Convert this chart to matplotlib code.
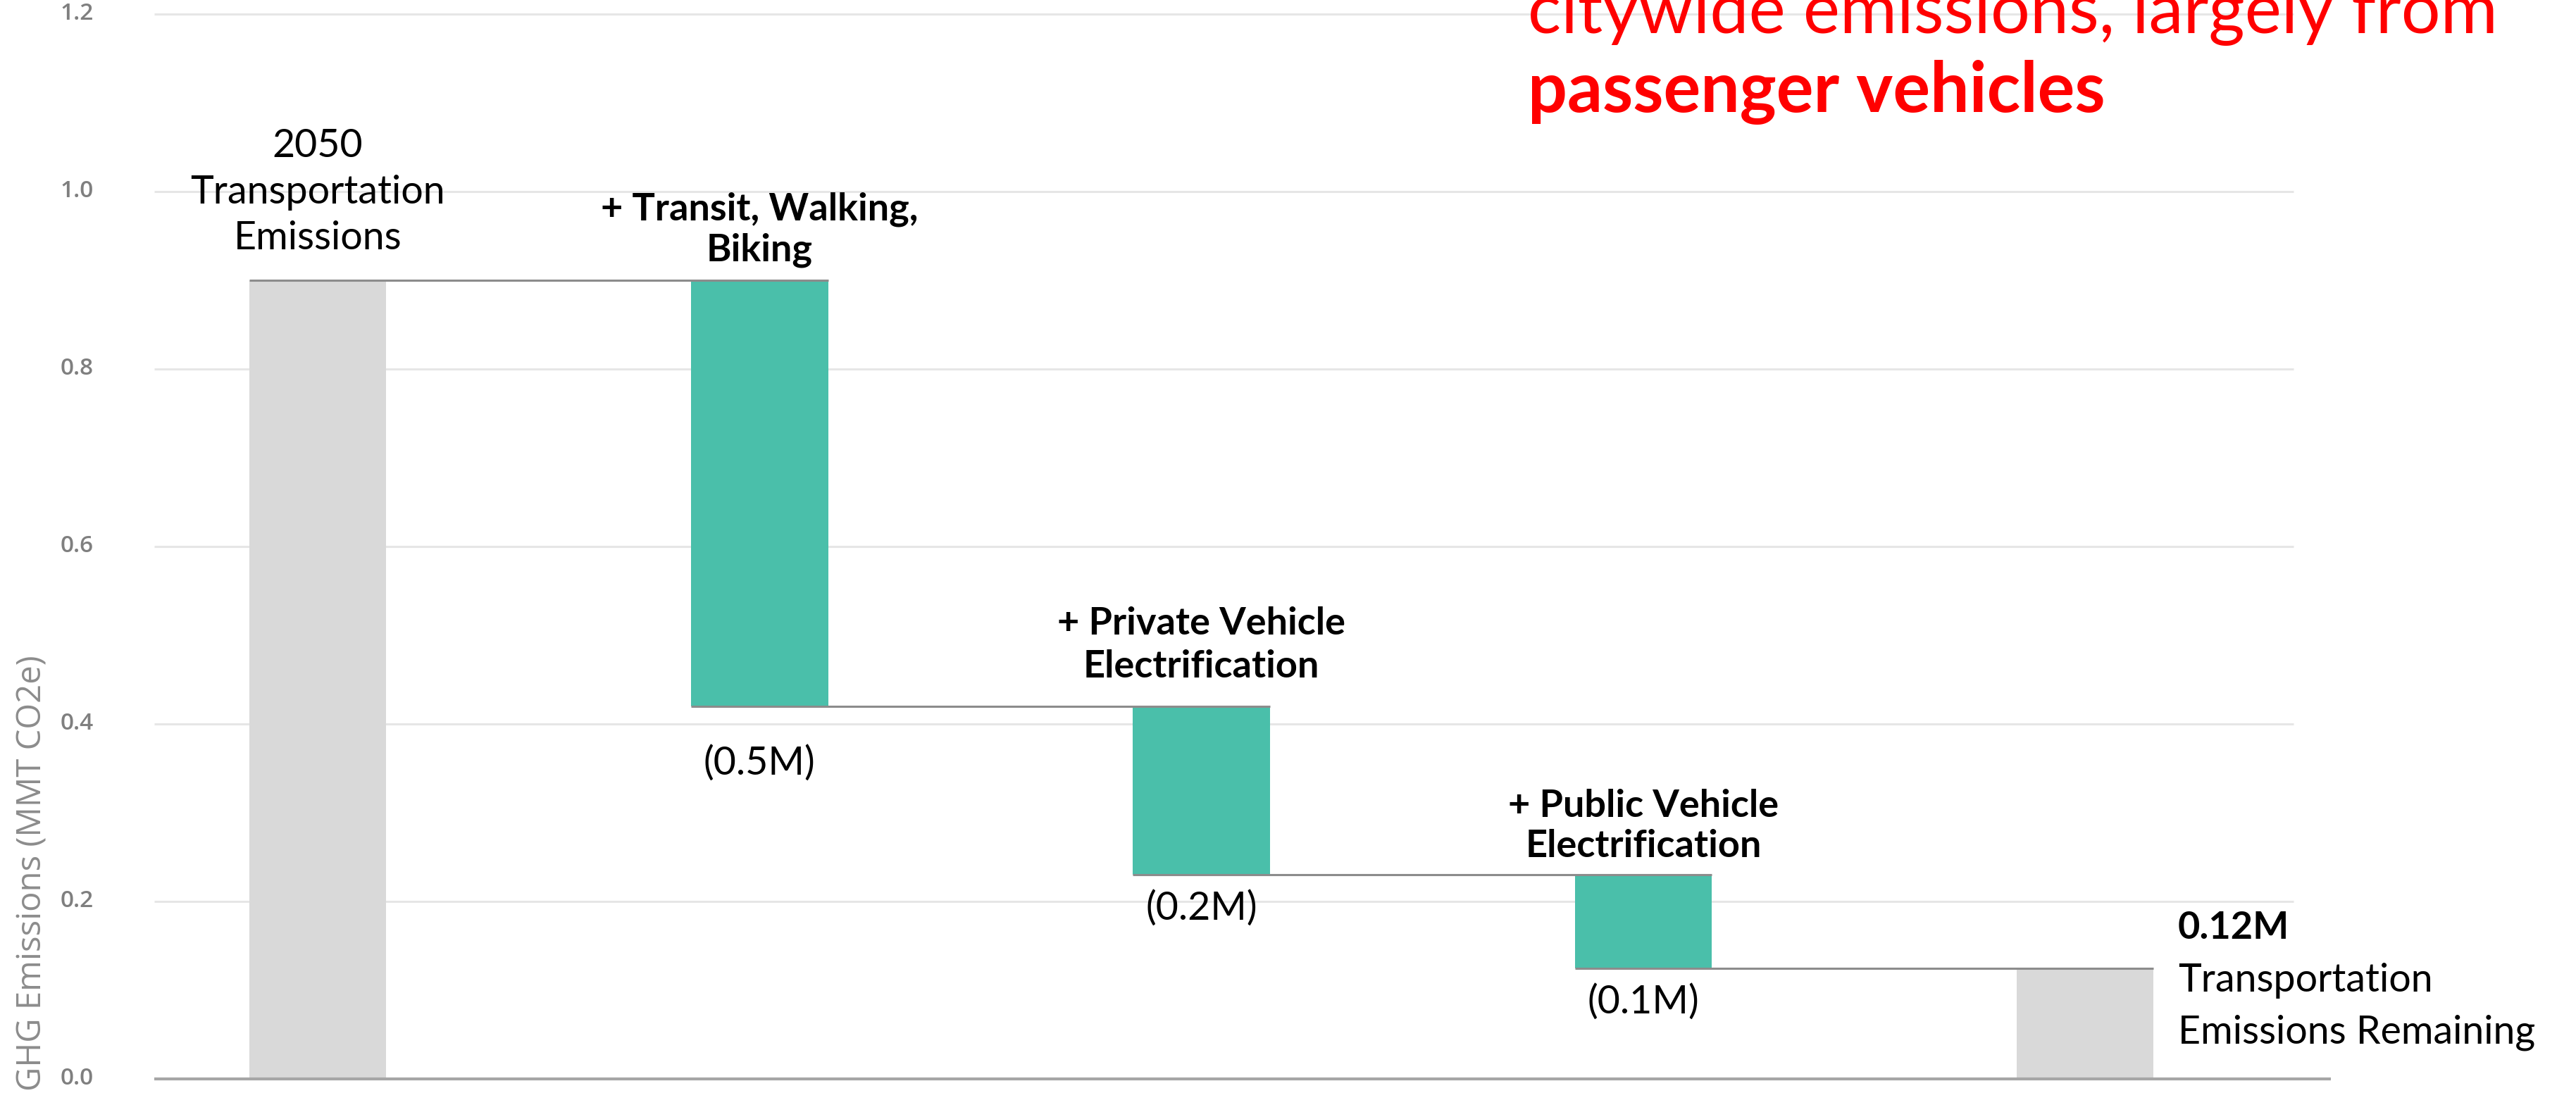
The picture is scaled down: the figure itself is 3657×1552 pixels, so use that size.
import matplotlib
matplotlib.use("Agg")
import matplotlib.pyplot as plt
import numpy as np

# ---------------- data ----------------
steps = ["2050 Transportation Emissions", "+ Transit, Walking, Biking",
         "+ Private Vehicle Electrification", "+ Public Vehicle Electrification",
         "Transportation Emissions Remaining"]
start_total = 0.90
reductions = [0.48, 0.19, 0.105]
remaining = 0.125
yticks = [0.0, 0.2, 0.4, 0.6, 0.8, 1.0, 1.2]
ytick_labels = ["0.0", "0.2", "0.4", "0.6", "0.8", "1.0", "1.2"]
reduction_labels = ["(0.5M)", "(0.2M)", "(0.1M)"]
ylabel = "GHG Emissions (MMT CO2e)"

W, H = 3657, 1552
DPI = 100
fig = plt.figure(figsize=(W / DPI, H / DPI), dpi=DPI)
ax = fig.add_axes([0, 0, 1, 1])
ax.set_facecolor("white")

# pixel -> data helpers
y0_row, per_unit = 1532, 1260.0
x0_col, per_cat = 451.0, 627.3
ax.set_ylim((y0_row - H) / per_unit, y0_row / per_unit)
ax.set_xlim((0 - x0_col) / per_cat, (W - x0_col) / per_cat)
for s in ax.spines.values():
    s.set_visible(False)
ax.set_xticks([])
ax.set_yticks([])

TEAL = "#4ABFAA"
GREY = "#D9D9D9"
LINE = "#8C8C8C"
GRID = "#E6E6E6"
bw = 0.31

# gridlines
gx0, gx1 = -0.37, 4.472
for t in yticks[1:]:
    ax.hlines(t, gx0, gx1, color=GRID, lw=2.2, zorder=0)
ax.hlines(0, gx0, 4.556, color="#A6A6A6", lw=3, zorder=3)

# tick labels
for t, lab in zip(yticks, ytick_labels):
    ax.text(-0.507, t, lab, ha="right", va="center", fontsize=24,
            color="#7F7F7F", family="Open Sans", fontweight="semibold")
fig.text(46 / W, 1 - 1240 / H, ylabel, rotation=90, ha="center", va="center",
         fontsize=34, color="#8C8C8C", family="Open Sans")

# waterfall
levels = [start_total]
for r in reductions:
    levels.append(levels[-1] - r)
x = np.arange(len(steps))
ax.bar(x[0], start_total, width=bw, color=GREY, zorder=2)
for i, r in enumerate(reductions):
    ax.bar(x[i + 1], r, bottom=levels[i + 1], width=bw, color=TEAL, zorder=2)
ax.bar(x[4], remaining, width=bw, color=GREY, zorder=2)

# connectors
conn = [start_total] + levels[1:]
for i, lv in enumerate(conn):
    ax.hlines(lv, x[i] - bw / 2, x[i + 1] + bw / 2, color=LINE, lw=2.2, zorder=4)

# labels
REG = dict(family="Lato", fontsize=40, color="black")
BOLD = dict(family="Lato", fontsize=39, color="black", fontweight="bold")
ax.text(x[0], 0.999, "2050\nTransportation\nEmissions", ha="center", va="center",
        linespacing=1.35, **REG)
ax.text(x[1], 0.957, "+ Transit, Walking,\nBiking", ha="center", va="center",
        linespacing=1.2, **BOLD)
ax.text(x[2], 0.489, "+ Private Vehicle\nElectrification", ha="center", va="center",
        linespacing=1.3, **BOLD)
ax.text(x[3], 0.285, "+ Public Vehicle\nElectrification", ha="center", va="center",
        linespacing=1.2, **BOLD)
for i, (lab, yy) in enumerate(zip(reduction_labels, [0.356, 0.192, 0.087])):
    ax.text(x[i + 1], yy, lab, ha="center", va="center", **REG)
lx = x[4] + 0.21
ax.text(lx, 0.170, "0.12M", ha="left", va="center", **BOLD)
ax.text(lx, 0.111, "Transportation", ha="left", va="center", **REG)
ax.text(lx, 0.052, "Emissions Remaining", ha="left", va="center", **REG)

# red headline (cropped at top, as in the source)
fig.text(2169 / W, 1 - 47 / H, "citywide emissions, largely from", ha="left",
         va="baseline", fontsize=71, color="#FF0000", family="Lato")
fig.text(2169 / W, 1 - 159 / H, "passenger vehicles", ha="left",
         va="baseline", fontsize=71, color="#FF0000", family="Lato", fontweight="bold")

fig.savefig("out.png", dpi=DPI, facecolor="white")
